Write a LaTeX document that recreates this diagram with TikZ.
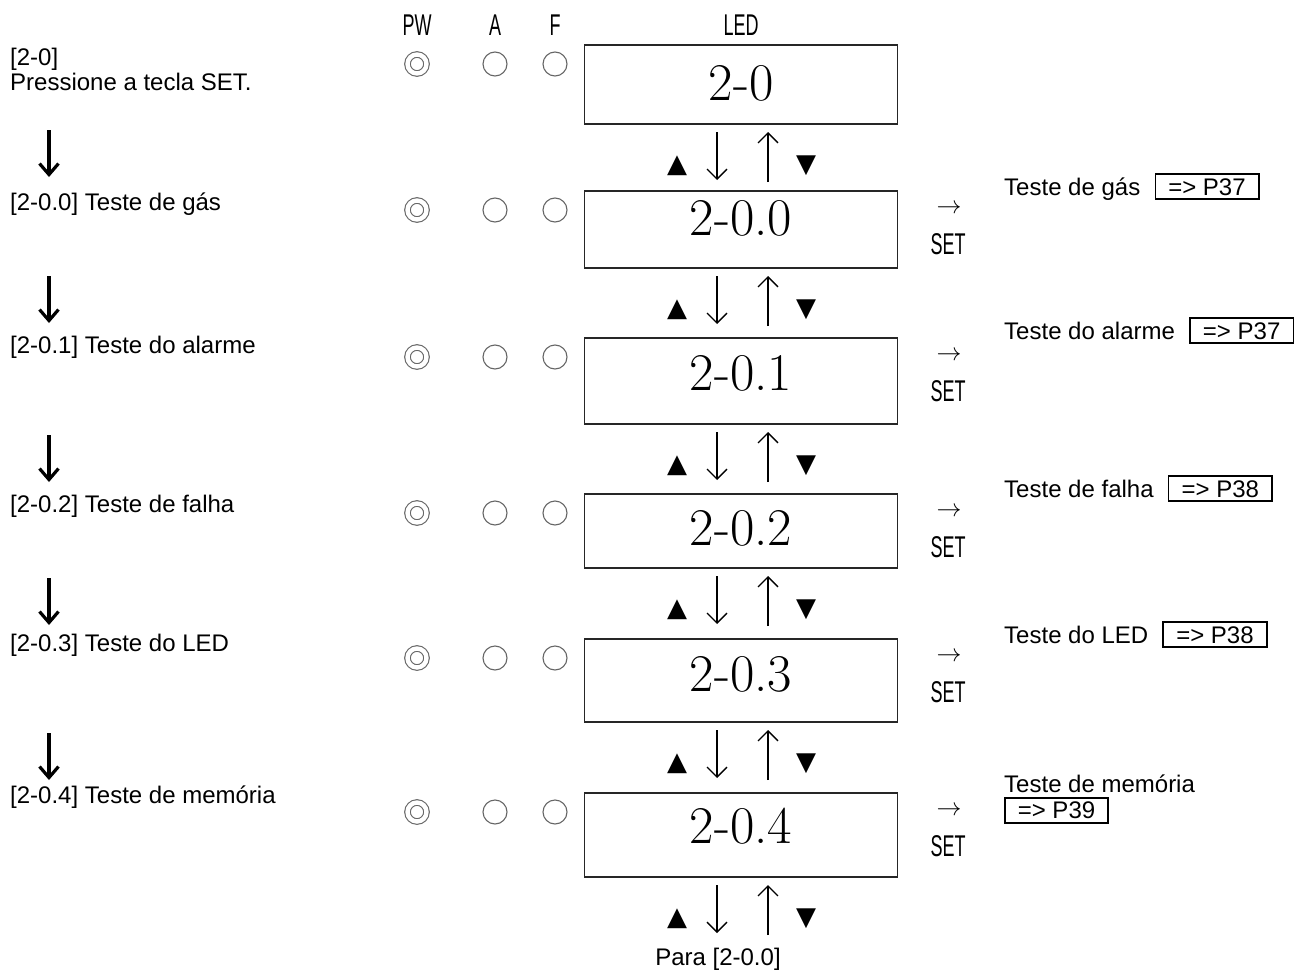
\documentclass[tikz,border=0pt]{standalone}
\usepackage{fontspec}
\newfontfamily\arial{Liberation Sans}
\newfontfamily\gothic[FakeStretch=0.6]{Liberation Sans}
\newfontfamily\dejavu{DejaVu Sans}
\usetikzlibrary{arrows.meta}

\begin{document}
\begin{tikzpicture}[x=1pt, y=-1pt,
    txt/.style={inner sep=0pt, font=\arial\fontsize{24}{28}\selectfont},
    lbl/.style={txt, anchor=base west},
    head/.style={inner sep=0pt, font=\gothic\fontsize{30}{30}\selectfont},
    lamp/.style={circle, draw=black!60, line width=1.1pt, minimum size=24pt, inner sep=0pt},
    pwlamp/.style={lamp, double, double distance=4.4pt, minimum size=19pt},
    ledbox/.style={draw=black!85, line width=1.8pt, minimum width=313pt, inner sep=0pt, anchor=north},
    digits/.style={inner sep=0pt, font=\fontsize{53}{53}\selectfont},
    pgbox/.style={txt, draw, line width=1.6pt, anchor=base west, inner xsep=13pt, inner ysep=4pt,
      text height=17pt, text depth=0pt},
    tri/.style={inner sep=0pt, font=\dejavu\fontsize{26}{26}\selectfont},
    updown/.style={line width=1.3pt, -{Straight Barb[length=10pt, width=20pt]}},
    flow/.style={line width=3.2pt, -{Straight Barb[length=11pt, width=19pt]}}]
  \useasboundingbox (0,0) rectangle (1301,974);

  % column heads
  \foreach \n/\x in {PW/417, A/495, F/555, LED/741}
    \node[head] (h\n) at (\x,25) {\n};

  % LED panels, lamps and up/down keys
  \foreach \code/\top/\bot/\dy [count=\i from 0] in {2-0/44/123/83, 2-0.0/190/267/218,
      2-0.1/337/423/373, 2-0.2/493/567/528, 2-0.3/638/721/674, 2-0.4/792/876/826}{
    \pgfmathsetmacro\h{\bot-\top}
    \node[ledbox, minimum height=\h pt] (led\i) at (741,\top) {};
    \node[digits] (num\i) at (741,\dy) {\code};
    \node[pwlamp] (pw\i) at (417,\top+20) {};
    \node[lamp] (a\i) at (495,\top+20) {};
    \node[lamp] (f\i) at (555,\top+20) {};
    \coordinate (dn\i) at (717,\bot+9);
    \coordinate (up\i) at (768,\bot+59);
    \draw[updown] (dn\i) -- ++(0,48);
    \draw[updown] (up\i) -- ++(0,-50);
    \node[tri] (tu\i) at (677,\bot+43) {▲};
    \node[tri] (td\i) at (806,\bot+43) {▼};
  }
  \foreach \top [count=\i] in {190, 337, 493, 638, 792}{
    \node[inner sep=0pt, font=\fontsize{30}{30}\selectfont] (go\i) at (949,\top+19) {$\rightarrow$};
    \node[head] (set\i) at (948,\top+54) {SET};
  }
  \node[txt, anchor=base] (back) at (718,965) {Para [2-0.0]};

  % left column
  \node[lbl] (l0) at (10,66) {[2-0]};
  \node[lbl] (l0b) at (10,90) {Pressione a tecla SET.};
  \foreach \t/\b/\a [count=\i] in {{[2-0.0] Teste de gás}/210/130, {[2-0.1] Teste do alarme}/353/276,
      {[2-0.2] Teste de falha}/512/435, {[2-0.3] Teste do LED}/651/578,
      {[2-0.4] Teste de memória}/803/733}{
    \node[lbl] (l\i) at (10,\b) {\t};
    \coordinate (s\i) at (49,\a);
    \draw[flow] (s\i) -- ++(0,47);
  }

  % right column
  \foreach \t/\pg/\b [count=\i] in {Teste de gás/37/195, Teste do alarme/37/339,
      Teste de falha/38/497, Teste do LED/38/643}{
    \node[lbl] (r\i) at (1004,\b) {\t};
    \node[pgbox] (p\i) at ([xshift=14pt]r\i.base east) {=> P\pg};
  }
  \node[lbl] (r5) at (1004,792) {Teste de memória};
  \node[pgbox, anchor=north west] (p5) at ([yshift=-5pt]r5.base west) {=> P39};
\end{tikzpicture}
\end{document}
